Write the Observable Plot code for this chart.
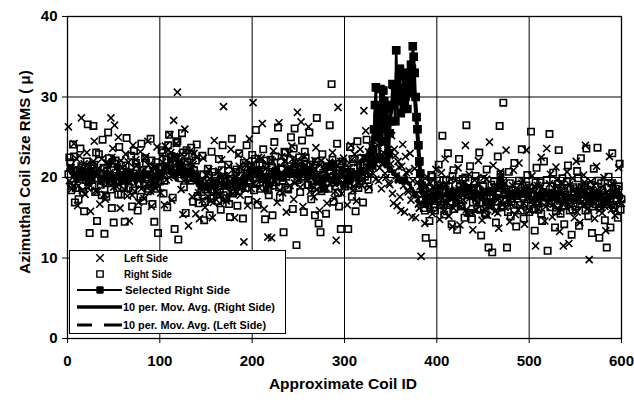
<!DOCTYPE html>
<html><head><meta charset="utf-8">
<script src="https://cdn.jsdelivr.net/npm/d3@7"></script>
<script src="https://cdn.jsdelivr.net/npm/@observablehq/plot@0.6"></script>
<style>
html,body{margin:0;padding:0;background:#fff;}
#chart{width:634px;height:402px;}
</style></head><body><div id="chart"></div>
<script>
// ---- data ----
const xTicks = [0, 100, 200, 300, 400, 500, 600];
const yTicks = [0, 10, 20, 30, 40];
const xTitle = "Approximate Coil ID";
const yTitle = "Azimuthal Coil Size RMS ( \u03bc)";
const seriesNames = ["Left Side", "Right Side", "Selected Right Side",
  "10 per. Mov. Avg. (Right Side)", "10 per. Mov. Avg. (Left Side)"];

// right side, even coils 2,4,...,600
const rightSideEven = [
  22.5, 18.4, 24.1, 16.9, 20.8, 17.3, 23.6, 21.2, 15.8, 19.7,
  26.6, 13.1, 21.5, 26.4, 18.2, 14.6, 22.9, 19.1, 24.7, 13.0,
  17.6, 25.6, 20.3, 16.2, 14.4, 22.1, 19.4, 23.8, 17.9, 21.0,
  14.5, 24.9, 18.7, 20.6, 16.4, 23.3, 21.8, 15.9, 19.2, 24.2,
  17.1, 22.4, 20.0, 18.6, 24.8, 16.7, 14.5, 21.9, 13.1, 19.5,
  23.4, 18.0, 20.9, 16.3, 25.3, 22.6, 17.5, 13.6, 24.3, 12.3,
  21.4, 25.5, 18.8, 15.6, 22.0, 19.9, 23.7, 17.0, 20.4, 24.1,
  16.8, 19.3, 22.7, 14.7, 18.5, 21.1, 15.3, 23.2, 17.7, 20.2,
  18.1, 22.3, 16.0, 24.0, 19.0, 17.4, 21.6, 15.1, 24.8, 18.3,
  20.7, 16.5, 23.0, 18.9, 14.9, 21.3, 24.0, 17.2, 19.6, 22.8,
  18.4, 25.9, 16.6, 21.7, 19.8, 23.5, 14.8, 20.1, 17.8, 22.2,
  15.3, 24.4, 19.4, 26.2, 17.5, 21.0, 13.2, 23.1, 18.7, 20.5,
  25.0, 16.1, 26.1, 11.6, 21.9, 18.2, 24.6, 15.7, 22.5, 19.1,
  25.6, 17.3, 20.8, 15.3, 27.4, 14.3, 13.2, 22.9, 18.6, 15.5,
  21.4, 26.5, 31.6, 17.0, 19.7, 24.2, 16.4, 13.6, 22.0, 18.9,
  20.6, 13.6, 23.8, 17.6, 21.2, 15.8, 24.5, 19.3, 22.4, 16.9,
  20.1, 24.7, 18.5, 22.9, 21.5,
  26.0, 31.2, 27.5, 22.5, 28.0, 30.8, 26.5, 28.5, 23.0, 27.0,
  31.6, 29.0, 35.8, 31.0, 33.5, 29.5, 32.7, 30.0, 28.5, 32.0,
  34.0, 36.3, 33.0, 27.5, 24.0, 20.5,
  19.0, 16.2, 12.5, 17.8, 14.6, 20.3, 11.8, 15.9, 18.4,
  21.6, 17.0, 25.2, 15.4, 19.6, 23.0, 16.8, 14.2, 20.9, 18.1,
  13.5, 22.3, 16.5, 19.8, 15.0, 26.5, 17.9, 21.4, 14.8, 18.6,
  20.2, 16.1, 23.1, 12.8, 18.9, 15.6, 21.0, 11.3, 17.4, 10.7,
  19.5, 14.4, 22.6, 26.4, 16.3, 29.3, 18.2, 11.3, 20.7, 15.2,
  17.7, 21.8, 13.9, 19.1, 16.6, 23.5, 14.9, 18.4, 20.3, 15.7,
  25.7, 17.2, 13.4, 21.2, 16.0, 19.4, 14.6, 22.0, 18.0, 10.9,
  25.4, 16.8, 20.6, 13.8, 18.7, 23.4, 15.5, 19.9, 14.2, 17.5,
  21.5, 15.9, 12.9, 18.8, 16.4, 20.8, 14.0, 22.4, 17.1, 19.0,
  23.6, 15.2, 18.3, 13.1, 21.1, 16.7, 23.7, 12.5, 19.3, 17.6,
  14.7, 11.3, 20.1, 13.8, 23.0, 16.2, 18.6, 15.0, 21.7, 17.3
];
// right side, odd coils 1,3,...,599
const rightSideOdd = [
  20.4, 21.9, 19.1, 22.6, 18.7, 20.9, 19.8, 21.4, 18.2, 20.1,
  22.0, 19.5, 20.7, 18.9, 21.6, 23.1, 19.9, 20.5, 17.8, 21.2,
  19.3, 20.8, 22.4, 18.5, 20.2, 21.7, 19.6, 17.9, 21.0, 20.3,
  18.8, 21.5, 19.7, 20.6, 22.7, 18.4, 20.0, 21.3, 19.2, 17.6,
  20.9, 19.0, 21.8, 18.3, 20.4, 22.1, 19.5, 20.8, 18.6, 21.1,
  21.3, 23.1, 19.6, 22.2, 24.0, 20.9, 22.5, 20.4, 21.7, 24.5,
  21.8, 19.9, 23.1, 20.5, 23.4, 21.2, 19.6, 22.6, 20.9, 22.1,
  17.7, 19.5, 18.2, 20.4, 17.0, 18.8, 20.0, 17.4, 20.7, 18.3,
  19.6, 17.1, 18.5, 20.9, 17.8, 19.3, 19.0, 16.7, 19.8, 18.0,
  19.5, 21.0, 18.3, 20.2, 19.1, 21.8, 18.7, 20.5, 19.4, 21.3,
  20.0, 22.3, 19.2, 20.9, 18.6, 21.5, 19.9, 22.1, 18.4, 20.7,
  21.2, 19.0, 22.6, 20.3, 18.8, 21.9, 19.6, 23.2, 20.1, 18.5,
  22.2, 20.5, 23.6, 21.3, 19.7, 22.5, 21.0, 20.1, 23.2, 21.6,
  19.1, 21.6, 18.7, 20.4, 22.0, 19.5, 21.1, 18.3, 20.6, 19.9,
  21.3, 18.6, 20.0, 22.2, 19.4, 20.9, 18.1, 21.7, 19.8, 20.3,
  18.9, 21.0, 19.6, 20.7, 22.3, 19.2, 20.4, 18.7, 21.5, 19.9,
  20.8, 22.4, 19.7, 21.2, 23.0,
  23.5, 29.0, 25.0, 27.5, 31.0, 24.5, 29.5, 22.0, 27.0, 25.5,
  29.0, 31.5, 27.0, 30.0, 32.5, 28.0, 31.0, 29.0, 33.0, 30.5,
  31.5, 33.5, 35.0, 30.0, 26.0, 22.0,
  17.2, 18.6, 15.9, 19.4, 16.8, 18.0, 20.1, 16.3, 17.7, 19.0,
  18.4, 16.6, 19.7, 17.3, 15.8, 18.9, 17.0, 20.2, 16.1, 18.3,
  17.5, 19.2, 16.4, 18.1, 20.0, 17.8, 15.6, 18.7, 16.9, 19.5,
  17.1, 18.5, 16.0, 19.8, 17.6, 15.4, 18.2, 16.7, 19.1, 17.4,
  18.8, 16.2, 17.9, 20.4, 16.5, 18.6, 17.2, 15.7, 19.3, 17.0,
  16.6, 18.4, 17.7, 19.6, 15.9, 18.0, 16.8, 19.0, 17.3, 18.7,
  17.8, 16.1, 19.4, 17.0, 18.5, 15.5, 18.1, 16.9, 19.7, 17.4,
  16.3, 18.9, 17.6, 15.8, 19.2, 17.1, 18.3, 16.5, 17.9, 19.5,
  17.2, 18.6, 16.0, 18.2, 17.5, 19.9, 16.7, 18.8, 17.3, 15.9,
  18.5, 17.0, 19.1, 16.4, 18.0, 17.7, 19.6, 16.2, 18.4, 17.8,
  16.9, 18.7, 17.4, 19.3, 16.6, 18.1, 17.2, 18.9, 16.0
];

// left side, odd coils 1,3,...,599
const leftSideOdd = [
  26.3, 21.4, 18.6, 24.2, 19.8, 16.5, 22.7, 27.4, 20.3, 17.9,
  23.1, 19.2, 15.8, 21.6, 24.5, 18.4, 20.9, 16.7, 22.3, 19.6,
  17.3, 21.8, 20.4, 27.4, 23.6, 26.5, 18.9, 25.0, 16.2, 21.2,
  19.4, 22.9, 17.7, 14.6, 20.8, 24.0, 18.3, 21.5, 16.9, 23.2,
  20.1, 17.4, 22.6, 24.5, 19.0, 16.4, 21.3, 18.7, 23.8, 20.5,
  18.1, 21.9, 16.6, 19.7, 23.4, 25.3, 17.2, 27.1, 20.6, 30.6,
  22.1, 18.5, 15.4, 26.0, 19.9, 14.0, 21.7, 17.6, 23.0, 15.5,
  20.2, 14.9, 18.8, 22.4, 16.3, 19.5, 21.0, 17.1, 15.0, 24.6,
  18.2, 20.7, 16.8, 22.2, 28.8, 19.3, 17.5, 21.4, 23.5, 18.0,
  15.0, 20.0, 22.8, 17.8, 19.1, 12.0, 21.6, 16.5, 24.8, 18.6,
  29.3, 20.4, 17.0, 22.5, 19.6, 26.7, 16.1, 21.1, 12.6, 18.9,
  12.5, 23.3, 19.4, 16.9, 26.8, 20.3, 18.1, 22.0, 15.7, 21.2,
  19.0, 23.9, 17.3, 21.7, 28.1, 19.8, 26.9, 16.4, 22.6, 20.1,
  26.3, 18.3, 21.5, 17.6, 23.7, 19.5, 15.9, 22.1, 18.7, 20.9,
  16.8, 21.3, 19.2, 23.1, 17.4, 12.2, 28.7, 20.6, 18.0, 22.4,
  19.7, 16.6, 21.8, 24.0, 18.4, 22.9, 17.1, 20.3, 23.5, 19.0,
  28.3, 25.8, 21.2, 18.8, 23.9, 20.5, 24.7, 22.2, 19.6, 26.0,
  21.8, 24.3, 20.0, 23.4, 19.1, 25.2, 16.8, 22.7, 16.5, 21.3,
  15.9, 24.1, 15.7, 20.6, 18.2, 23.0, 15.1, 17.9, 15.0, 19.4,
  16.2, 10.2, 18.5, 14.3, 20.1, 16.9, 19.3, 15.5, 17.7, 21.0,
  18.0, 14.8, 20.6, 16.5, 22.3, 17.4, 15.2, 19.8, 13.9, 18.3,
  16.7, 21.2, 14.1, 19.0, 17.2, 24.0, 15.6, 20.4, 18.6, 13.5,
  19.7, 16.0, 22.1, 17.8, 14.7, 20.0, 18.4, 15.3, 24.4, 17.0,
  21.5, 15.8, 18.9, 13.7, 20.7, 16.6, 19.2, 23.4, 17.3, 14.5,
  18.2, 20.9, 15.4, 17.6, 21.8, 16.3, 19.6, 14.2, 23.4, 18.7,
  15.9, 20.2, 17.4, 11.5, 19.0, 16.8, 22.5, 18.1, 14.6, 23.6,
  17.5, 20.4, 15.1, 18.6, 21.3, 16.2, 13.3, 19.4, 11.5, 17.9,
  20.7, 11.8, 16.4, 19.9, 15.0, 22.0, 17.7, 14.4, 18.8, 20.3,
  24.0, 16.1, 9.8, 19.5, 17.0, 14.9, 21.4, 16.5, 18.2, 15.6,
  20.0, 13.4, 17.8, 22.6, 16.0, 19.1, 15.3, 18.5, 21.2, 16.7
];
// left side, even coils 2,4,...,600
const leftSideEven = [
  19.6, 21.2, 18.9, 20.5, 22.3, 19.0, 20.8, 18.4, 21.7, 20.1,
  18.7, 21.4, 19.8, 22.0, 20.3, 18.2, 21.1, 19.5, 20.9, 17.9,
  21.8, 19.3, 20.6, 22.5, 18.8, 20.2, 21.3, 19.1, 22.1, 20.0,
  18.5, 20.7, 21.9, 19.4, 17.8, 20.4, 22.2, 19.7, 21.0, 18.6,
  20.3, 22.4, 19.2, 21.5, 18.3, 20.8, 19.9, 21.2, 18.9, 20.6,
  22.7, 20.3, 23.9, 21.5, 20.0, 23.1, 21.8, 20.6, 24.2, 21.3,
  20.7, 22.9, 19.6, 22.1, 21.0, 23.2, 19.8, 21.6, 20.3, 22.5,
  18.1, 19.4, 17.2, 19.0, 20.3, 17.6, 19.9, 18.7, 16.9, 19.5,
  18.3, 20.8, 17.8, 19.6, 18.9, 17.1, 20.4, 18.2, 19.3, 18.6,
  20.7, 18.2, 21.4, 19.5, 20.9, 18.6, 22.1, 19.8, 20.4, 21.6,
  19.2, 21.0, 20.5, 18.7, 22.4, 20.1, 19.4, 21.7, 18.9, 20.8,
  22.0, 19.6, 21.3, 20.0, 18.4, 22.6, 19.9, 21.1, 20.4, 23.0,
  20.6, 22.3, 19.3, 21.8, 20.1, 18.8, 22.7, 20.3, 21.5, 19.7,
  21.2, 19.0, 20.7, 22.1, 18.5, 20.4, 21.6, 19.2, 20.9, 18.7,
  20.2, 21.9, 19.5, 20.8, 18.3, 21.4, 19.8, 22.0, 20.5, 19.1,
  21.0, 19.7, 20.3, 22.2, 18.9, 20.6, 21.8, 19.4, 20.1, 22.5,
  20.7, 21.5, 23.2, 20.4, 22.1,
  22.4, 19.8, 24.0, 21.2, 18.6, 23.1, 20.5, 22.8, 19.3, 21.7,
  18.0, 23.5, 20.2, 22.0, 17.6, 21.4, 19.0, 22.6, 18.4, 20.8,
  17.2, 19.6, 21.1, 18.0, 16.7, 18.9,
  17.8, 16.5, 19.0, 17.2, 18.4, 15.9, 18.7, 17.0, 19.3, 16.6,
  18.1, 17.4, 15.8, 19.2, 16.9, 18.5, 17.7, 16.2, 19.6, 17.1,
  18.6, 16.4, 17.9, 19.4, 16.0, 18.2, 17.5, 15.7, 18.9, 17.3,
  16.8, 19.1, 17.6, 18.3, 16.1, 19.8, 17.0, 18.0, 16.5, 18.7,
  17.4, 15.6, 18.8, 17.1, 19.5, 16.3, 18.4, 17.8, 16.7, 19.0,
  17.2, 18.6, 16.0, 17.9, 19.3, 16.8, 18.1, 17.5, 15.9, 18.5,
  16.6, 18.9, 17.3, 16.1, 19.0, 17.7, 18.3, 16.4, 17.0, 19.2,
  18.0, 16.7, 17.4, 19.7, 15.8, 18.2, 17.1, 18.8, 16.3, 17.6,
  19.1, 16.9, 18.4, 17.2, 15.7, 18.6, 17.8, 16.5, 19.4, 17.0,
  16.2, 18.3, 17.5, 19.0, 16.8, 18.1, 15.9, 17.7, 18.9, 16.4,
  18.2, 17.3, 16.6, 19.3, 17.9, 16.0, 18.5, 17.1, 16.8
];

// coil range highlighted as "Selected Right Side"
const selectedRange = [330, 382];
// moving-average window (periods)
const movAvgPeriods = 10;

// ---- build tables ----
const byCoil = (a, b) => a.coil - b.coil;
const right = [
  ...rightSideEven.map((v, i) => ({coil: 2 + 2 * i, v})),
  ...rightSideOdd.map((v, i) => ({coil: 1 + 2 * i, v}))
].sort(byCoil);
const left = [
  ...leftSideOdd.map((v, i) => ({coil: 1 + 2 * i, v})),
  ...leftSideEven.map((v, i) => ({coil: 2 + 2 * i, v}))
].sort(byCoil);
const selected = right.filter(d => d.coil >= selectedRange[0] && d.coil <= selectedRange[1]);

const FONT = "'Liberation Sans', Arial, Helvetica, sans-serif";

const plot = Plot.plot({
  width: 634, height: 402,
  marginLeft: 67, marginRight: 13, marginTop: 16, marginBottom: 64,
  style: {fontFamily: FONT, fontSize: "15px", fontWeight: "bold", color: "#000", background: "#fff", overflow: "visible"},
  x: {domain: [0, 600], label: null},
  y: {domain: [0, 40], label: null},
  marks: [
    Plot.gridX(xTicks, {stroke: "#000", strokeOpacity: 1, strokeWidth: 1}),
    Plot.gridY(yTicks, {stroke: "#000", strokeOpacity: 1, strokeWidth: 1}),
    Plot.frame({stroke: "#000", strokeWidth: 1.3}),
    Plot.dot(left, {x: "coil", y: "v", symbol: "times", r: 3.3, stroke: "#000", strokeWidth: 1.6}),
    Plot.dot(right, {x: "coil", y: "v", symbol: "square", r: 3.6, stroke: "#000", fill: "none", strokeWidth: 1.6}),
    Plot.line(selected, {x: "coil", y: "v", stroke: "#000", strokeWidth: 2.6}),
    Plot.dot(selected, {x: "coil", y: "v", symbol: "square", r: 4, fill: "#000", stroke: "#000"}),
    Plot.lineY(right, Plot.windowY({k: movAvgPeriods}, {x: "coil", y: "v", stroke: "#000", strokeWidth: 4})),
    Plot.lineY(left, Plot.windowY({k: movAvgPeriods}, {x: "coil", y: "v", stroke: "#000", strokeWidth: 3.5, strokeDasharray: "9,4"})),
    Plot.axisX({ticks: xTicks, tickSize: 5, tickPadding: 12, stroke: "#000"}),
    Plot.axisY({ticks: yTicks, tickSize: 5, tickPadding: 5, stroke: "#000"})
  ]
});

document.getElementById("chart").appendChild(plot);

// ---- axis titles ----
const svg = d3.select(plot);
svg.append("text")
  .attr("x", 343).attr("y", 389)
  .attr("text-anchor", "middle")
  .attr("font-family", FONT).attr("font-weight", "bold").attr("font-size", "15.5px")
  .attr("fill", "#000")
  .text(xTitle);
svg.append("text")
  .attr("transform", "translate(30,172) rotate(-90)")
  .attr("text-anchor", "middle")
  .attr("font-family", FONT).attr("font-weight", "bold").attr("font-size", "15px")
  .attr("fill", "#000")
  .text(yTitle);

// ---- legend (inside the plot, lower left) ----
const lg = svg.append("g")
  .attr("font-family", FONT).attr("font-weight", "bold").attr("font-size", "10.5px")
  .attr("fill", "#000").attr("text-anchor", "start");
lg.append("rect").attr("x", 69.5).attr("y", 250.5).attr("width", 216).attr("height", 83)
  .attr("fill", "#fff").attr("stroke", "#000").attr("stroke-width", 1);
const rowsY = [258, 274, 290, 307, 325];
const textW = [44, 48, 105, 152, 143];
const textX = [124, 124, 125, 123, 123];
seriesNames.forEach((name, i) => {
  lg.append("text").attr("x", textX[i]).attr("y", rowsY[i] + 3.5)
    .attr("text-anchor", "start")
    .attr("textLength", textW[i]).attr("lengthAdjust", "spacingAndGlyphs")
    .text(name);
});
const sym = lg.append("g").attr("fill", "none").attr("stroke", "#000");
sym.append("path").attr("d", d3.symbol(d3.symbolTimes, 38)()).attr("transform", `translate(100,${rowsY[0]})`).attr("stroke-width", 1.4);
sym.append("path").attr("d", d3.symbol(d3.symbolSquare, 40)()).attr("transform", `translate(100,${rowsY[1]})`).attr("stroke-width", 1.4);
sym.append("line").attr("x1", 77).attr("x2", 122).attr("y1", rowsY[2]).attr("y2", rowsY[2]).attr("stroke-width", 2);
sym.append("path").attr("d", d3.symbol(d3.symbolSquare, 40)()).attr("transform", `translate(100,${rowsY[2]})`).attr("fill", "#000");
sym.append("line").attr("x1", 77).attr("x2", 122).attr("y1", rowsY[3]).attr("y2", rowsY[3]).attr("stroke-width", 3.5);
sym.append("line").attr("x1", 77).attr("x2", 92).attr("y1", rowsY[4]).attr("y2", rowsY[4]).attr("stroke-width", 3);
sym.append("line").attr("x1", 104).attr("x2", 122).attr("y1", rowsY[4]).attr("y2", rowsY[4]).attr("stroke-width", 3);
</script>
</body></html>
